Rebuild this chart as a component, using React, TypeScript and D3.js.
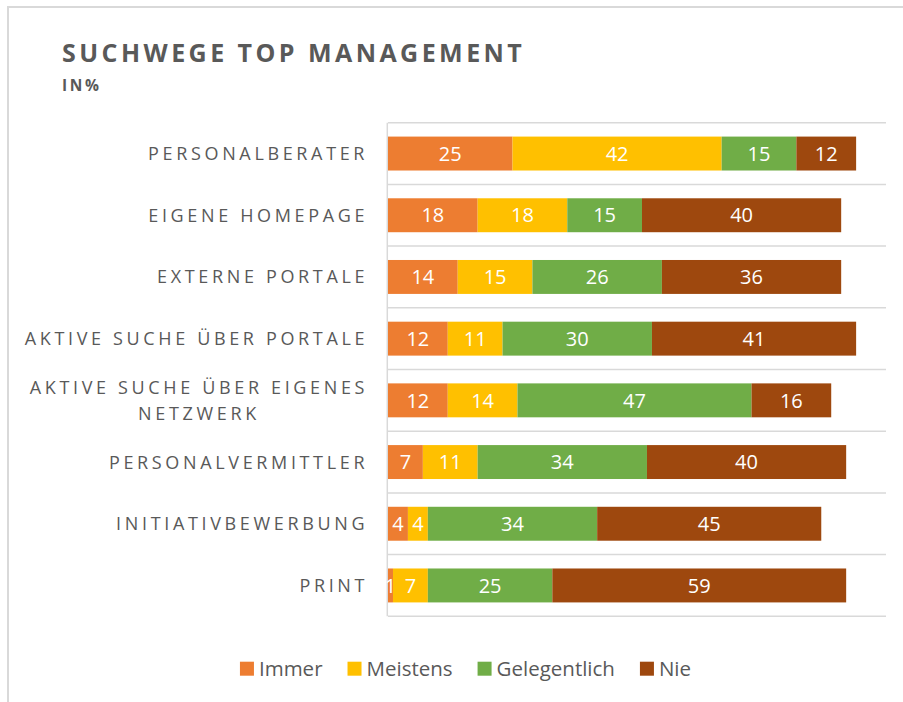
import React from "react";
import * as d3 from "d3";

const categories = [
  "PERSONALBERATER",
  "EIGENE HOMEPAGE",
  "EXTERNE PORTALE",
  "AKTIVE SUCHE ÜBER PORTALE",
  "AKTIVE SUCHE ÜBER EIGENES NETZWERK",
  "PERSONALVERMITTLER",
  "INITIATIVBEWERBUNG",
  "PRINT",
];
const seriesNames = ["Immer", "Meistens", "Gelegentlich", "Nie"];
const immer = [25, 18, 14, 12, 12, 7, 4, 1];
const meistens = [42, 18, 15, 11, 14, 11, 4, 7];
const gelegentlich = [15, 15, 26, 30, 47, 34, 34, 25];
const nie = [12, 40, 36, 41, 16, 40, 45, 59];
const colors = ["#ED7D31", "#FFC000", "#70AD47", "#9E480E"];
const title = "SUCHWEGE TOP MANAGEMENT";
const subtitle = "IN%";

const W = 903;
const H = 702;
const FONT = "'Open Sans', 'Noto Sans', sans-serif";
const LABEL_SIZE = 18;
const LABEL_SPACING = 3.65;
const LEGEND_SIZE = 20.5;
const TEXT_COLOR = "#595959";
const GRID = "#D9D9D9";

let ctx: CanvasRenderingContext2D | null = null;
function measure(text: string, font: string, spacing = 0) {
  if (!ctx) ctx = document.createElement("canvas").getContext("2d");
  if (!ctx) return text.length * 10;
  ctx.font = font;
  return ctx.measureText(text).width + spacing * text.length;
}

function wrap(label: string, maxW: number) {
  const font = `${LABEL_SIZE}px ${FONT}`;
  const words = label.split(" ");
  const lines: string[] = [];
  let cur = "";
  for (const w of words) {
    const test = cur ? cur + " " + w : w;
    if (cur && measure(test, font, LABEL_SPACING) > maxW) {
      lines.push(cur);
      cur = w;
    } else cur = test;
  }
  if (cur) lines.push(cur);
  return lines;
}

export default function App() {
  const left = 388;
  const right = 886;
  const top = 122.7;
  const bottom = 616.3;

  const x = d3.scaleLinear().domain([0, 100]).range([left, right]);
  const y = d3
    .scaleBand<string>()
    .domain(categories)
    .range([top, bottom])
    .paddingInner(0.45)
    .paddingOuter(0.225);

  const table = categories.map((c, i) => ({
    category: c,
    Immer: immer[i],
    Meistens: meistens[i],
    Gelegentlich: gelegentlich[i],
    Nie: nie[i],
  }));
  const stacked = d3.stack<any>().keys(seriesNames)(table);

  const boundaries = d3.range(categories.length + 1).map((i) => top + i * y.step());

  // legend layout
  const legendFont = `${LEGEND_SIZE}px ${FONT}`;
  const sq = 14;
  const gapText = 5;
  const gapItem = 25;
  const widths = seriesNames.map((s) => measure(s, legendFont));
  const itemW = widths.map((w) => sq + gapText + w);
  const totalW = d3.sum(itemW) + gapItem * (seriesNames.length - 1);
  const legendCenter = 465.5;
  let lx = legendCenter - totalW / 2;
  const legendX = itemW.map((w) => {
    const v = lx;
    lx += w + gapItem;
    return v;
  });
  const legendY = 668.7;

  const labelRight = 364.5;
  const labelFont = `${LABEL_SIZE}px ${FONT}`;

  return (
    <svg width={W} height={H} style={{ position: "absolute", left: 0, top: 0, background: "#fff" }}>
      <rect x={8} y={7} width={W + 20} height={H + 20} fill="#fff" stroke={GRID} strokeWidth={2} />
      <text
        x={62}
        y={61.7}
        fontFamily={FONT}
        fontWeight={700}
        fontSize={25}
        letterSpacing={3.45}
        fill={TEXT_COLOR}
      >
        {title}
      </text>
      <text
        x={62}
        y={90.7}
        fontFamily={FONT}
        fontWeight={700}
        fontSize={15.5}
        letterSpacing={2.6}
        fill={TEXT_COLOR}
      >
        {subtitle}
      </text>

      {boundaries.map((b, i) => (
        <line key={i} x1={left} x2={right} y1={b} y2={b} stroke={GRID} strokeWidth={1.5} />
      ))}
      <line x1={387.3} x2={387.3} y1={top} y2={bottom} stroke={GRID} strokeWidth={1.5} />

      {stacked.map((s, si) =>
        s.map((d, i) => (
          <rect
            key={`${si}-${i}`}
            x={x(d[0])}
            y={y(categories[i])}
            width={x(d[1]) - x(d[0])}
            height={y.bandwidth()}
            fill={colors[si]}
          />
        ))
      )}
      {stacked.map((s, si) =>
        s.map((d, i) => (
          <text
            key={`t${si}-${i}`}
            x={(x(d[0]) + x(d[1])) / 2}
            y={(y(categories[i]) as number) + y.bandwidth() / 2}
            dy="0.36em"
            textAnchor="middle"
            fontFamily={FONT}
            fontSize={20}
            fill="#fff"
          >
            {d[1] - d[0]}
          </text>
        ))
      )}

      {categories.map((c) => {
        const lines = wrap(c, 350);
        const lw = lines.map((l) => measure(l, labelFont, LABEL_SPACING) - LABEL_SPACING);
        const blockW = Math.max(...lw);
        const cx = labelRight - blockW / 2;
        const cy = (y(c) as number) + y.bandwidth() / 2;
        const lh = 25.7;
        return (
          <text
            key={c}
            fontFamily={FONT}
            fontSize={LABEL_SIZE}
            letterSpacing={LABEL_SPACING}
            fill={TEXT_COLOR}
            textAnchor="middle"
          >
            {lines.map((l, li) => (
              <tspan
                key={li}
                x={cx + LABEL_SPACING / 2}
                y={cy + (li - (lines.length - 1) / 2) * lh}
                dy="0.36em"
              >
                {l}
              </tspan>
            ))}
          </text>
        );
      })}

      {seriesNames.map((s, i) => (
        <g key={s}>
          <rect x={legendX[i]} y={legendY - sq / 2} width={sq} height={sq} fill={colors[i]} />
          <text
            x={legendX[i] + sq + gapText}
            y={legendY}
            dy="0.36em"
            fontFamily={FONT}
            fontSize={LEGEND_SIZE}
            fill={TEXT_COLOR}
          >
            {s}
          </text>
        </g>
      ))}
    </svg>
  );
}
